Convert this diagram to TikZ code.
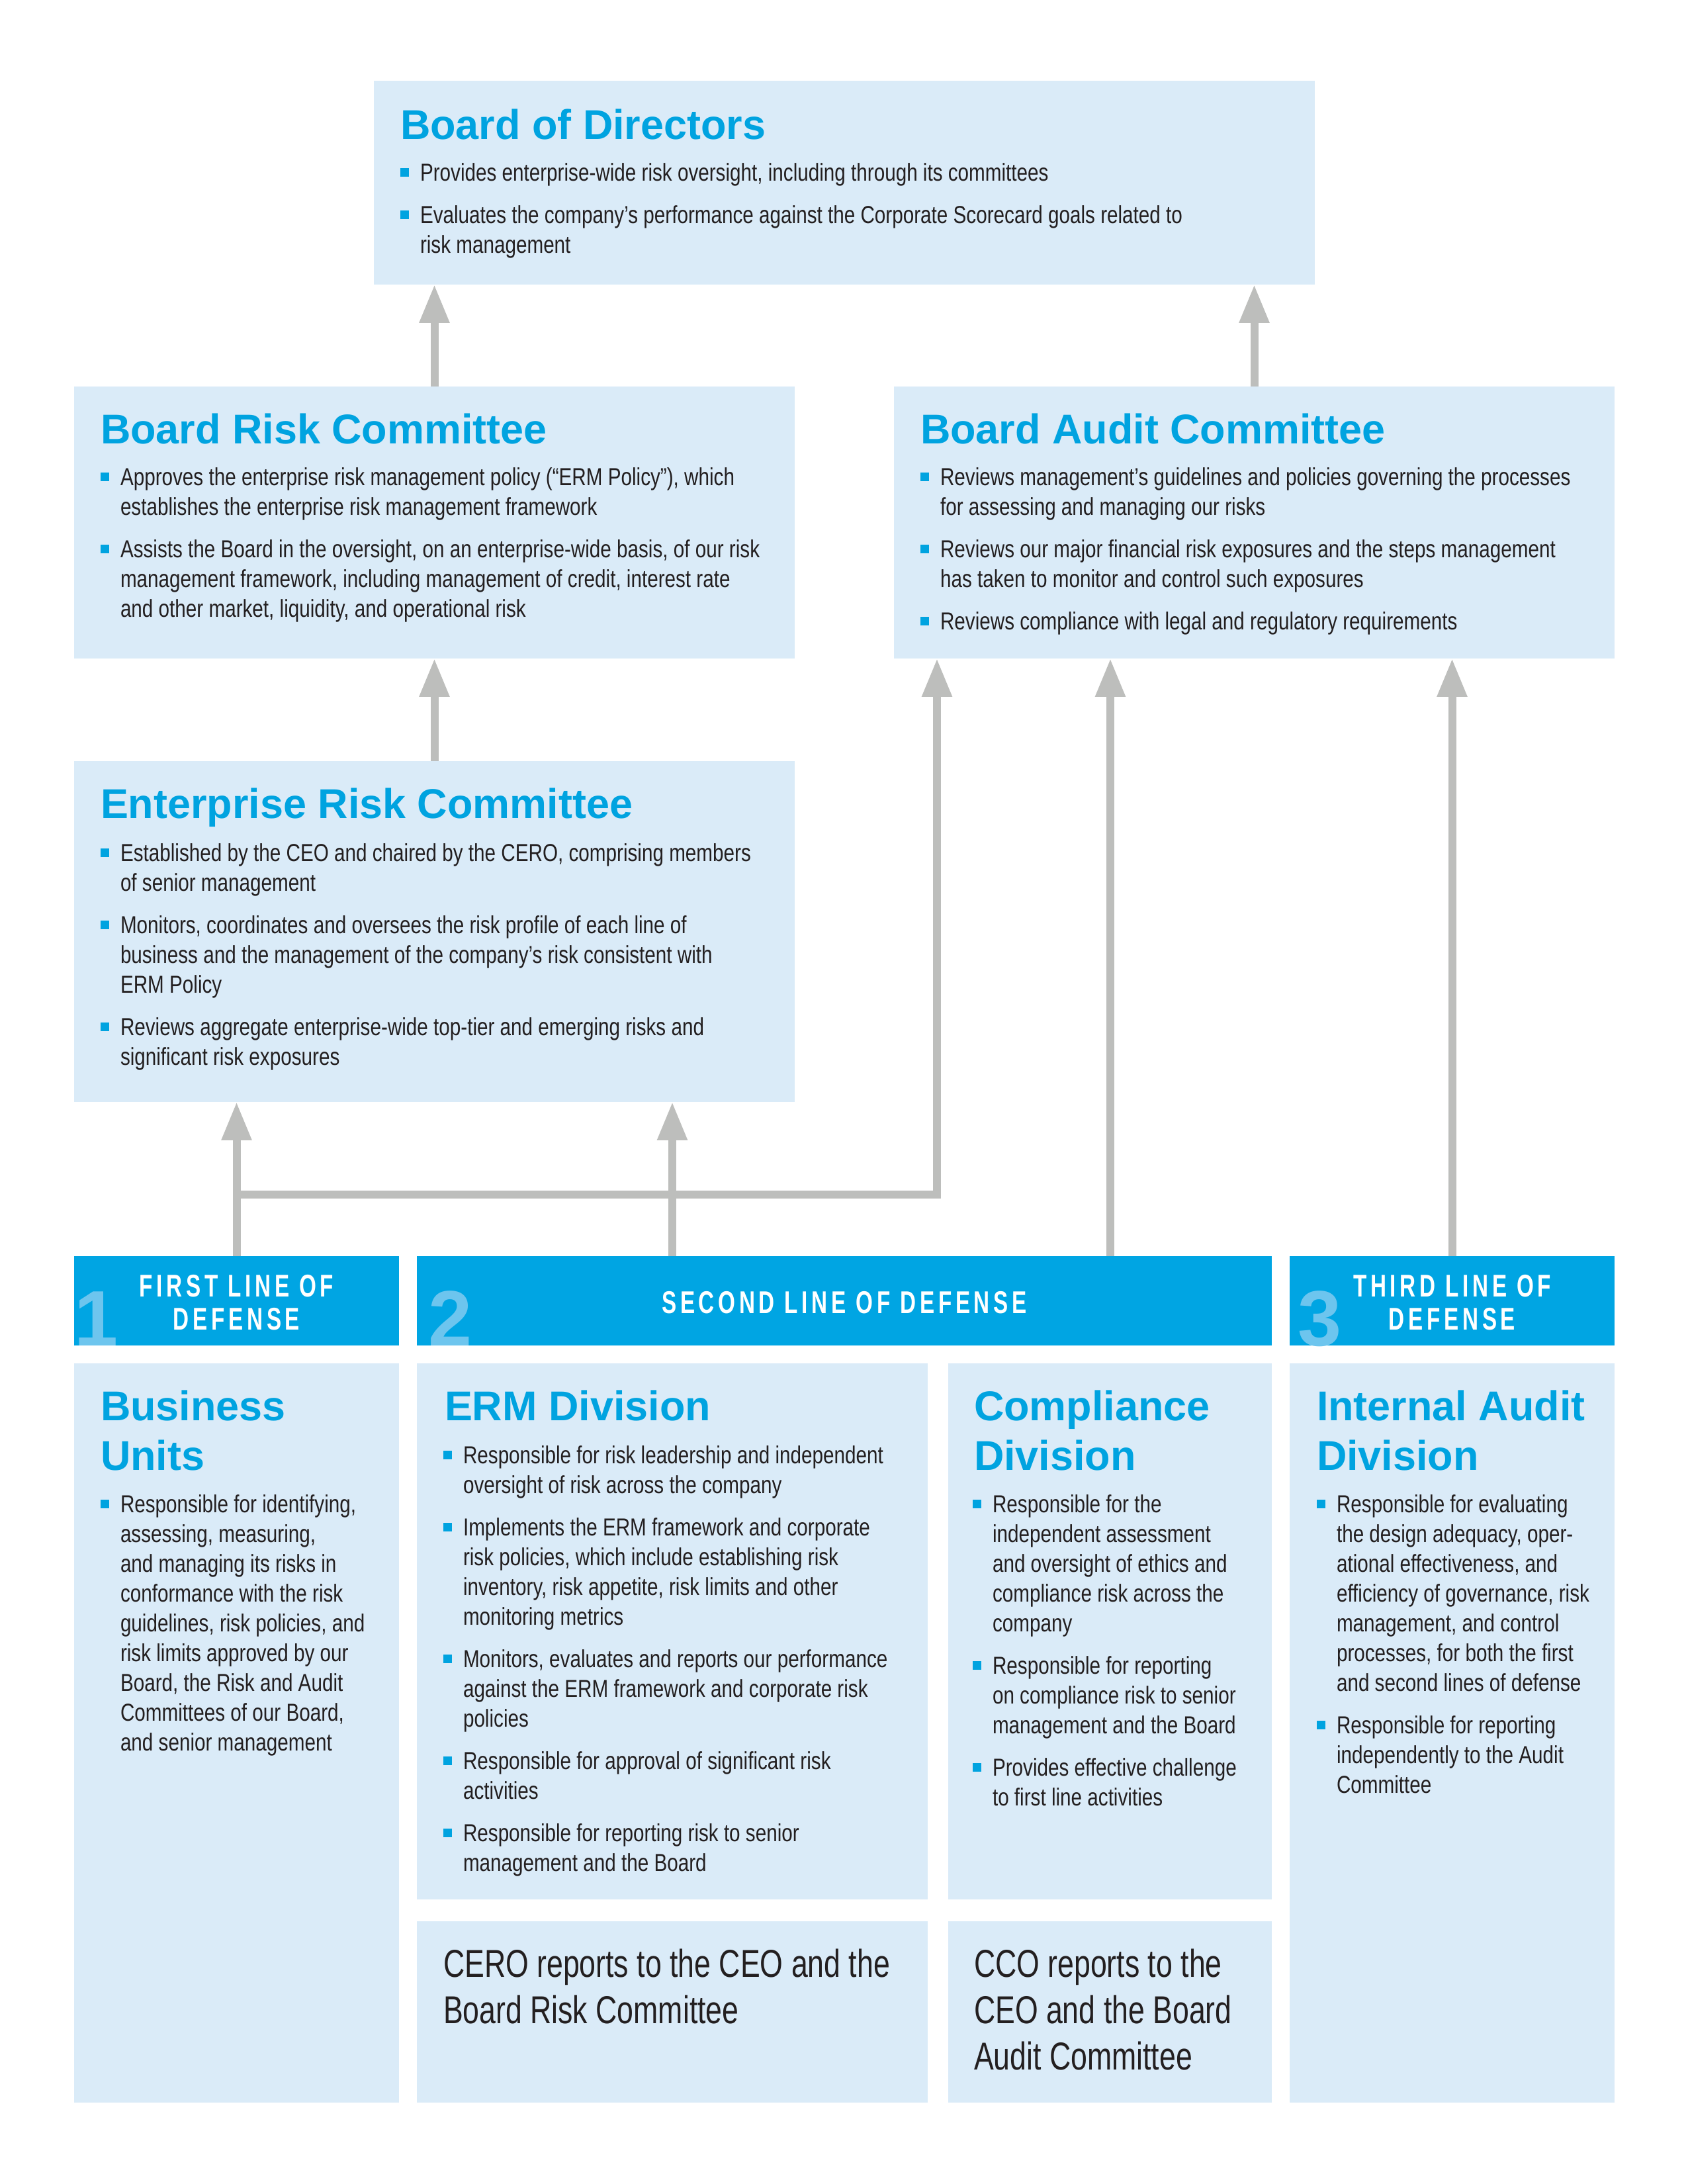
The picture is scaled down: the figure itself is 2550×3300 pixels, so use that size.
\documentclass[tikz,border=0pt]{standalone}
\usepackage{fontspec}
\setmainfont{Liberation Sans}
\newfontfamily\condf[FakeStretch=0.8]{Liberation Sans}
\newfontfamily\crof[FakeStretch=0.76]{Liberation Sans}
\newfontfamily\bandf[FakeStretch=0.7,LetterSpace=12]{Liberation Sans}
\usetikzlibrary{arrows.meta,fit}
\definecolor{boxfill}{HTML}{DAEBF8}
\definecolor{bandblue}{HTML}{00A5E3}
\definecolor{tblue}{HTML}{00A3E0}
\definecolor{digitblue}{HTML}{6DC5EE}
\definecolor{agray}{HTML}{BDBEBC}
\definecolor{ink}{HTML}{231F20}
\newlength\bind \setlength\bind{7.2pt}
\newcommand\bsq{\textcolor{tblue}{\rule[1.44pt]{3.12pt}{3.12pt}}}
\newcommand\bodyfont{\condf\fontsize{8.9pt}{10.8pt}\selectfont}
\newcommand\bitem[1]{\par\hangindent=\bind\hangafter=1\noindent\makebox[\bind][l]{\bsq}#1\par\vspace{4.56pt}}
\newcommand\blist[1]{\begin{minipage}[t]{500pt}\bodyfont#1\end{minipage}}
\newcommand\tblock[1]{\begin{minipage}[t]{500pt}\fontsize{15.1pt}{18pt}\selectfont\bfseries#1\end{minipage}}
\newcommand\cblock[1]{\begin{minipage}[t]{400pt}\crof\fontsize{14.1pt}{16.8pt}\selectfont#1\end{minipage}}
\tikzset{
  lbox/.style={fill=boxfill, inner sep=0pt, outer sep=0pt, draw=none},
  bandbox/.style={fill=bandblue, inner sep=0pt, outer sep=0pt, draw=none},
  txt/.style={anchor=base west, inner sep=0pt, outer sep=0pt, text=ink},
  ttl/.style={anchor=base west, inner sep=0pt, outer sep=0pt, text=tblue},
  bandtxt/.style={anchor=base, inner sep=0pt, text=white, font=\bandf\bfseries\fontsize{11.4pt}{12pt}\selectfont},
  digit/.style={anchor=base west, inner sep=0pt, text=digitblue, font=\bfseries\fontsize{28.5pt}{30pt}\selectfont},
  arr/.style={draw=agray, line width=2.88pt, line join=miter, -{Triangle[length=13.9pt,width=10.3pt]}},
}
\begin{document}
\begin{tikzpicture}[x=0.24pt,y=-0.24pt]
\useasboundingbox (0,0) rectangle (2550,3300);
% boxes
\node[lbox, fit={(565,122) (1987,430)}] (bod) {};
\node[lbox, fit={(112,584) (1201,995)}] (brc) {};
\node[lbox, fit={(1351,584) (2440,995)}] (bac) {};
\node[lbox, fit={(112,1150) (1201,1665)}] (erc) {};
\node[bandbox, fit={(112,1898) (603,2033)}] (band1) {};
\node[bandbox, fit={(630,1898) (1922,2033)}] (band2) {};
\node[bandbox, fit={(1949,1898) (2440,2033)}] (band3) {};
\node[lbox, fit={(112,2060) (603,3177)}] (bu) {};
\node[lbox, fit={(630,2060) (1402,2870)}] (erm) {};
\node[lbox, fit={(1433,2060) (1922,2870)}] (comp) {};
\node[lbox, fit={(630,2903) (1402,3177)}] (cero) {};
\node[lbox, fit={(1433,2903) (1922,3177)}] (cco) {};
\node[lbox, fit={(1949,2060) (2440,3177)}] (iad) {};
% connectors
\coordinate (c2) at (1016,1800);
\coordinate (jn) at (1416,1805);
\coordinate (c3) at (1678,1800);
\draw[arr] (brc.north) -- (brc.north |- bod.south);
\draw[arr] (bac.north) -- (bac.north |- bod.south);
\draw[arr] (erc.north) -- (erc.north |- brc.south);
\draw[arr] (band1.north) -- (band1.north |- erc.south);
\draw[arr] (band2.north -| c2) -- (erc.south -| c2);
\draw[arr] (band1.north |- jn) -- (jn) -- (jn |- bac.south);
\draw[arr] (band2.north -| c3) -- (bac.south -| c3);
\draw[arr] (band3.north) -- (band3.north |- bac.south);
% Board of Directors
\node[ttl] (bodt) at (605,210) {\tblock{Board of Directors}};
\node[txt] (bodb) at (605,273) {\blist{%
\bitem{Provides enterprise-wide risk oversight, including through its committees}
\bitem{Evaluates the company’s performance against the Corporate Scorecard goals related to\\risk management}}};
% Board Risk Committee
\node[ttl] (brct) at (152,670) {\tblock{Board Risk Committee}};
\node[txt] (brcb) at (152,733) {\blist{%
\bitem{Approves the enterprise risk management policy (“ERM Policy”), which\\establishes the enterprise risk management framework}
\bitem{Assists the Board in the oversight, on an enterprise-wide basis, of our risk\\management framework, including management of credit, interest rate\\and other market, liquidity, and operational risk}}};
% Board Audit Committee
\node[ttl] (bact) at (1391,670) {\tblock{Board Audit Committee}};
\node[txt] (bacb) at (1391,733) {\blist{%
\bitem{Reviews management’s guidelines and policies governing the processes\\for assessing and managing our risks}
\bitem{Reviews our major financial risk exposures and the steps management\\has taken to monitor and control such exposures}
\bitem{Reviews compliance with legal and regulatory requirements}}};
% Enterprise Risk Committee
\node[ttl] (erct) at (152,1236) {\tblock{Enterprise Risk Committee}};
\node[txt] (ercb) at (152,1301) {\blist{%
\bitem{Established by the CEO and chaired by the CERO, comprising members\\of senior management}
\bitem{Monitors, coordinates and oversees the risk profile of each line of\\business and the management of the company’s risk consistent with\\ERM Policy}
\bitem{Reviews aggregate enterprise-wide top-tier and emerging risks and\\significant risk exposures}}};
% bands
\node[digit] (d1) at (112,2033) {1};
\node[digit] (d2) at (647,2033) {2};
\node[digit] (d3) at (1961,2033) {3};
\node[bandtxt] (b1a) at (357.5,1959) {FIRST LINE OF};
\node[bandtxt] (b1b) at (357.5,2009) {DEFENSE};
\node[bandtxt] (b2a) at (1276,1984) {SECOND LINE OF DEFENSE};
\node[bandtxt] (b3a) at (2194.5,1959) {THIRD LINE OF};
\node[bandtxt] (b3b) at (2194.5,2009) {DEFENSE};
% Business Units
\node[ttl] (but) at (152,2146) {\tblock{Business\\Units}};
\node[txt] (bub) at (152,2285) {\blist{%
\bitem{Responsible for identifying,\\assessing, measuring,\\and managing its risks in\\conformance with the risk\\guidelines, risk policies, and\\risk limits approved by our\\Board, the Risk and Audit\\Committees of our Board,\\and senior management}}};
% ERM Division
\node[ttl] (ermt) at (672,2146) {\tblock{ERM Division}};
\node[txt] (ermb) at (670,2211) {\blist{%
\bitem{Responsible for risk leadership and independent\\oversight of risk across the company}
\bitem{Implements the ERM framework and corporate\\risk policies, which include establishing risk\\inventory, risk appetite, risk limits and other\\monitoring metrics}
\bitem{Monitors, evaluates and reports our performance\\against the ERM framework and corporate risk\\policies}
\bitem{Responsible for approval of significant risk\\activities}
\bitem{Responsible for reporting risk to senior\\management and the Board}}};
% Compliance Division
\node[ttl] (compt) at (1472,2146) {\tblock{Compliance\\Division}};
\node[txt] (compb) at (1470,2285) {\blist{%
\bitem{Responsible for the\\independent assessment\\and oversight of ethics and\\compliance risk across the\\company}
\bitem{Responsible for reporting\\on compliance risk to senior\\management and the Board}
\bitem{Provides effective challenge\\to first line activities}}};
% Internal Audit Division
\node[ttl] (iadt) at (1990,2146) {\tblock{Internal Audit\\Division}};
\node[txt] (iadb) at (1990,2285) {\blist{%
\bitem{Responsible for evaluating\\the design adequacy, oper-\\ational effectiveness, and\\efficiency of governance, risk\\management, and control\\processes, for both the first\\and second lines of defense}
\bitem{Responsible for reporting\\independently to the Audit\\Committee}}};
% reporting boxes
\node[txt] (cerot) at (670,2987) {\cblock{CERO reports to the CEO and the\\Board Risk Committee}};
\node[txt] (ccot) at (1472,2987) {\cblock{CCO reports to the\\CEO and the Board\\Audit Committee}};
\end{tikzpicture}
\end{document}
